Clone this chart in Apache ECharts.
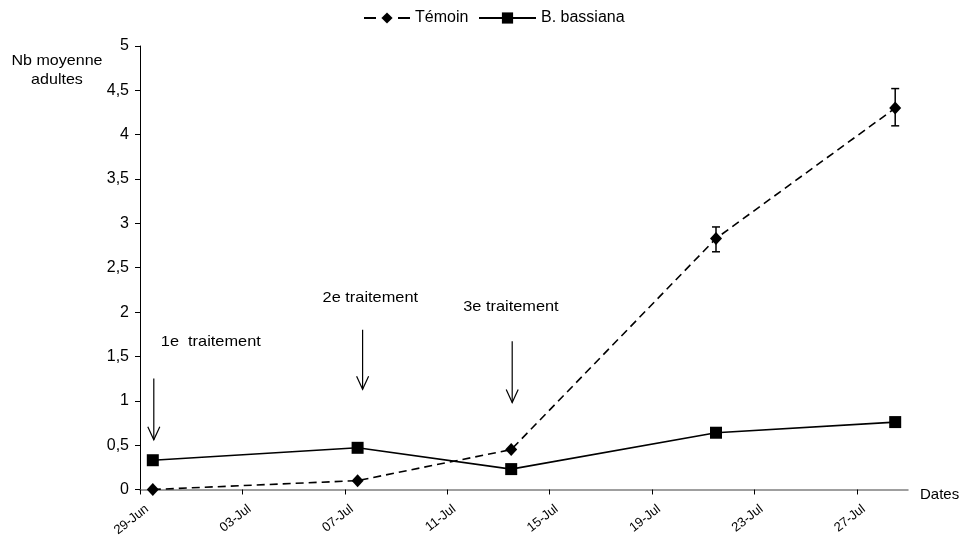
<!DOCTYPE html>
<html><head><meta charset="utf-8">
<script src="https://cdn.jsdelivr.net/npm/echarts@6/dist/echarts.min.js"></script>
<style>html,body{margin:0;padding:0;background:#fff}#c{width:963px;height:539px}</style>
</head><body><div id="c"></div>
<script>
// ---- data ----
const dates = ['29-Jun','07-Jul','13-Jul','21-Jul','28-Jul'];
const temoin = [0, 0.1, 0.45, 2.83, 4.3];
const temoinErrLow = [null, null, null, 2.68, 4.1];
const temoinErrHigh = [null, null, null, 2.96, 4.52];
const bassiana = [0.33, 0.47, 0.23, 0.64, 0.76];
const tickLabels = ['29-Jun','03-Jul','07-Jul','11-Jul','15-Jul','19-Jul','23-Jul','27-Jul'];
const treatmentDates = ['29-Jun','07-Jul','13-Jul'];
const treatmentLabels = ['1e  traitement','2e traitement','3e traitement'];
const arrowTop = [1.25, 1.80, 1.67];
const arrowTip = [0.56, 1.13, 0.98];
const labelLevel = [1.67, 2.16, 2.06];

// ---- layout (pixel offsets, not data) ----
const arrowDx = [1, 5, 1];
const labelDx = [8, -35, -48];

const months = {Jun:5, Jul:6};
function dayPos(s){ // days since 29-Jun, placed mid-day like a date axis
  const [d,m] = s.split('-');
  return (Date.UTC(2000, months[m], +d) - Date.UTC(2000, 5, 29)) / 86400000 + 0.5;
}
const tickValues = tickLabels.map(s => dayPos(s) - 0.5);

const font = 'Liberation Sans, Arial, sans-serif';
const chart = echarts.init(document.getElementById('c'), null, {renderer:'canvas'});

const errData = dates.map((d,i)=> temoinErrLow[i]==null ? null : [dayPos(d), temoinErrLow[i], temoinErrHigh[i]]).filter(Boolean);
const legendText = {fontSize:16, color:'#000', fontFamily:font};

chart.setOption({
  animation:false,
  textStyle:{fontFamily:font},
  legend:[
    {left:363, top:10, padding:0, itemWidth:46, itemHeight:14, itemGap:0, textStyle:legendText,
     lineStyle:{type:[12,22]}, data:['Témoin']},
    {left:478, top:10, padding:0, itemWidth:57, itemHeight:14, itemGap:0, textStyle:legendText, data:['B. bassiana']}
  ],
  grid:{left:140, right:55, top:46, bottom:49},
  xAxis:{
    type:'value', min:0, max:30, interval:4,
    name:'Dates', nameLocation:'end', nameGap:12,
    nameTextStyle:{fontSize:15, color:'#000', verticalAlign:'top', padding:[-2,0,0,0]},
    axisLine:{lineStyle:{color:'#808080', width:1.5}},
    axisTick:{show:true, length:5, lineStyle:{color:'#000'}, customValues:tickValues},
    axisLabel:{rotate:38, fontSize:13, color:'#000', margin:9, verticalAlign:'top', padding:[5,0,0,0],
      customValues:tickValues,
      formatter:(v)=>{const i=tickValues.indexOf(v); return i>=0?tickLabels[i]:'';}},
    splitLine:{show:false}
  },
  yAxis:{
    type:'value', min:0, max:5, interval:0.5,
    axisLine:{show:true, lineStyle:{color:'#000', width:1}},
    axisTick:{show:true, length:5, lineStyle:{color:'#000'}},
    axisLabel:{fontSize:16, color:'#000', margin:11, formatter:(v)=>String(v).replace('.',',')},
    splitLine:{show:false}
  },
  series:[
    {
      name:'Témoin', type:'line',
      data:dates.map((d,i)=>[dayPos(d), temoin[i]]),
      symbol:'diamond', symbolSize:[12,13],
      lineStyle:{color:'#000', width:1.6, type:[8,5]},
      itemStyle:{color:'#000'}, z:3
    },
    {
      name:'B. bassiana', type:'line',
      data:dates.map((d,i)=>[dayPos(d), bassiana[i]]),
      symbol:'rect', symbolSize:12,
      lineStyle:{color:'#000', width:1.6},
      itemStyle:{color:'#000'}, z:3
    },
    {
      type:'custom', name:'err', data:errData, z:4, silent:true,
      renderItem:(params, api)=>{
        const x = api.value(0);
        const lo = api.coord([x, api.value(1)]);
        const hi = api.coord([x, api.value(2)]);
        const w = 4;
        const st = {stroke:'#000', lineWidth:1.5};
        return {type:'group', children:[
          {type:'line', shape:{x1:lo[0],y1:lo[1],x2:hi[0],y2:hi[1]}, style:st},
          {type:'line', shape:{x1:lo[0]-w,y1:lo[1],x2:lo[0]+w,y2:lo[1]}, style:st},
          {type:'line', shape:{x1:hi[0]-w,y1:hi[1],x2:hi[0]+w,y2:hi[1]}, style:st}
        ]};
      }
    }
  ]
});

const g = [];
treatmentDates.forEach((d,i)=>{
  const x = dayPos(d);
  const top = chart.convertToPixel({gridIndex:0}, [x, arrowTop[i]]);
  const tip = chart.convertToPixel({gridIndex:0}, [x, arrowTip[i]]);
  const tp = chart.convertToPixel({gridIndex:0}, [x, labelLevel[i]]);
  const ax = top[0] + arrowDx[i];
  g.push({type:'line', shape:{x1:ax,y1:top[1],x2:ax,y2:tip[1]}, style:{stroke:'#000', lineWidth:1.2}});
  g.push({type:'polyline', shape:{points:[[ax-6,tip[1]-13],[ax,tip[1]],[ax+6,tip[1]-13]]}, style:{stroke:'#000', lineWidth:1.2, fill:null}});
  g.push({type:'text', x:tp[0]+labelDx[i], y:tp[1], scaleX:1.09, style:{text:treatmentLabels[i], fontSize:15, fontFamily:font, fill:'#000', verticalAlign:'middle', align:'left'}});
});
g.push({type:'text', x:57, y:70, scaleX:1.07, style:{text:'Nb moyenne\nadultes', fontSize:15, fontFamily:font, fill:'#000', align:'center', verticalAlign:'middle', lineHeight:19}});
chart.setOption({graphic:g});
</script></body></html>
